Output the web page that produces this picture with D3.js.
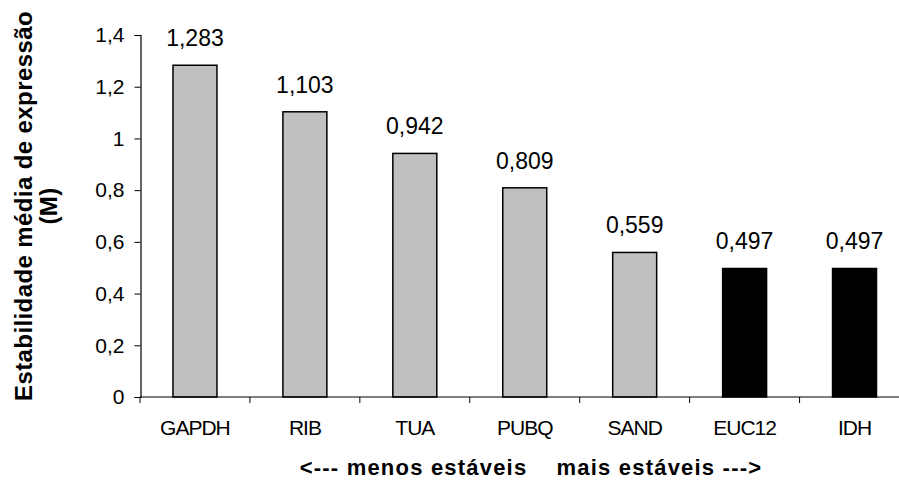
<!DOCTYPE html>
<html>
<head>
<meta charset="utf-8">
<script src="https://cdn.jsdelivr.net/npm/d3@7"></script>
<style>
  html, body { margin: 0; padding: 0; background: #fff; }
  svg { display: block; }
  text { font-family: Arial, "Liberation Sans", sans-serif; fill: #000; }
</style>
</head>
<body>
<svg id="chart" width="899" height="481"></svg>
<script>
// Mean expression stability (M) per reference gene
const genes = ["GAPDH", "RIB", "TUA", "PUBQ", "SAND", "EUC12", "IDH"];
const mValues = [1.283, 1.103, 0.942, 0.809, 0.559, 0.497, 0.497];
const valueLabels = ["1,283", "1,103", "0,942", "0,809", "0,559", "0,497", "0,497"];
const barColors = ["#c0c0c0", "#c0c0c0", "#c0c0c0", "#c0c0c0", "#c0c0c0", "#000000", "#000000"];
const yTicks = [0, 0.2, 0.4, 0.6, 0.8, 1, 1.2, 1.4];
const yTickLabels = ["0", "0,2", "0,4", "0,6", "0,8", "1", "1,2", "1,4"];

const svg = d3.select("#chart");
const plotLeft = 140, plotRight = 909.5, plotTop = 35, plotBottom = 397;

const x = d3.scaleBand().domain(genes).range([plotLeft, plotRight]).paddingInner(0.6).paddingOuter(0.3);
const y = d3.scaleLinear().domain([0, 1.4]).range([plotBottom, plotTop]);
const step = x.step();

// y axis
const yAxis = d3.axisLeft(y).tickValues(yTicks).tickSize(6).tickPadding(10)
  .tickFormat((d, i) => yTickLabels[i]);
const gy = svg.append("g").attr("transform", `translate(${plotLeft + 0.5},0)`).call(yAxis);
gy.select(".domain").attr("stroke", "#000").attr("stroke-width", 1.2);
gy.selectAll(".tick line").attr("stroke", "#000");
gy.selectAll(".tick text").attr("font-size", 21).attr("font-family", "Arial, 'Liberation Sans', sans-serif");

// bars
svg.selectAll("rect.bar").data(genes).enter().append("rect")
  .attr("class", "bar")
  .attr("x", d => x(d))
  .attr("width", x.bandwidth())
  .attr("y", (d, i) => y(mValues[i]))
  .attr("height", (d, i) => y(0) - y(mValues[i]))
  .attr("fill", (d, i) => barColors[i])
  .attr("stroke", "#000").attr("stroke-width", 1.5);

// x axis baseline and category ticks between bands
svg.append("line").attr("x1", plotLeft).attr("x2", plotRight).attr("y1", plotBottom).attr("y2", plotBottom)
  .attr("stroke", "#000").attr("stroke-width", 1.2);
const boundaries = d3.range(genes.length + 1).map(i => plotLeft + i * step);
svg.selectAll("line.xtick").data(boundaries).enter().append("line")
  .attr("class", "xtick")
  .attr("x1", d => d).attr("x2", d => d)
  .attr("y1", plotBottom).attr("y2", plotBottom + 6)
  .attr("stroke", "#000");

// category labels
svg.selectAll("text.cat").data(genes).enter().append("text")
  .attr("class", "cat")
  .attr("x", d => x(d) + x.bandwidth() / 2)
  .attr("y", 435)
  .attr("text-anchor", "middle")
  .attr("font-size", 21)
  .attr("letter-spacing", -1)
  .text(d => d);

// value labels
svg.selectAll("text.val").data(genes).enter().append("text")
  .attr("class", "val")
  .attr("x", d => x(d) + x.bandwidth() / 2)
  .attr("y", (d, i) => y(mValues[i]) - 19)
  .attr("text-anchor", "middle")
  .attr("font-size", 23)
  .text((d, i) => valueLabels[i]);

// y axis title
const yt = svg.append("text")
  .attr("transform", "translate(32,206) rotate(-90)")
  .attr("text-anchor", "middle")
  .attr("font-size", 24)
  .attr("letter-spacing", 0.4)
  .attr("font-weight", "bold");
yt.append("tspan").attr("x", 0).attr("dy", 0).text("Estabilidade média de expressão");
yt.append("tspan").attr("x", 0).attr("dy", 25).text("(M)");

// x axis title
svg.append("text")
  .attr("x", 531).attr("y", 475)
  .attr("text-anchor", "middle")
  .attr("font-size", 22)
  .attr("letter-spacing", 1.2)
  .attr("font-weight", "bold")
  .style("white-space", "pre")
  .text("<--- menos estáveis    mais estáveis --->");
</script>
</body>
</html>
